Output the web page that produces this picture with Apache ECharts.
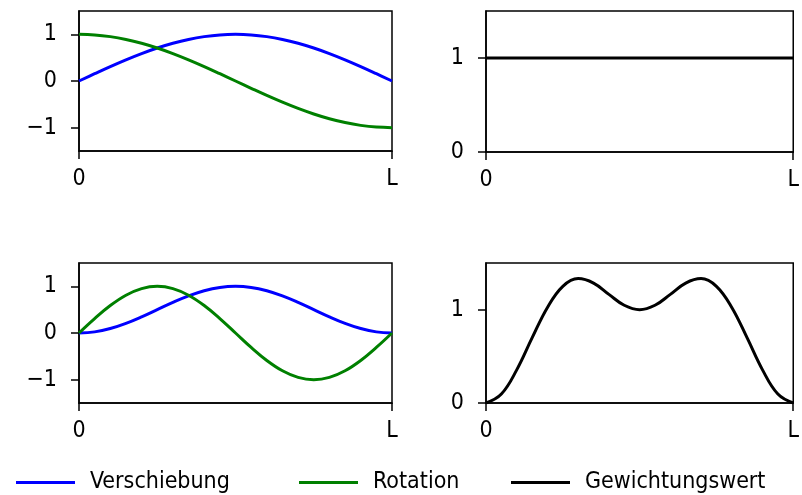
<!DOCTYPE html>
<html>
<head>
<meta charset="utf-8">
<script src="https://cdn.jsdelivr.net/npm/echarts@6/dist/echarts.min.js"></script>
<style>html,body{margin:0;padding:0;background:#fff;}#c{width:802px;height:495px;}</style>
</head>
<body>
<div id="c"></div>
<script>
// x positions as fraction of L
const xs = [0,0.05,0.1,0.15,0.2,0.25,0.3,0.35,0.4,0.45,0.5,0.55,0.6,0.65,0.7,0.75,0.8,0.85,0.9,0.95,1];
// Top-left
const dispTop = [0,0.156,0.309,0.454,0.588,0.707,0.809,0.891,0.951,0.988,1,0.988,0.951,0.891,0.809,0.707,0.588,0.454,0.309,0.156,0];
const rotTop = [1,0.988,0.951,0.891,0.809,0.707,0.588,0.454,0.309,0.156,0,-0.156,-0.309,-0.454,-0.588,-0.707,-0.809,-0.891,-0.951,-0.988,-1];
// Top-right
const weightTop = [1,1,1,1,1,1,1,1,1,1,1,1,1,1,1,1,1,1,1,1,1];
// Bottom-left
const dispBot = [0,0.024,0.095,0.206,0.345,0.5,0.655,0.794,0.905,0.976,1,0.976,0.905,0.794,0.655,0.5,0.345,0.206,0.095,0.024,0];
const rotBot = [0,0.309,0.588,0.809,0.951,1,0.951,0.809,0.588,0.309,0,-0.309,-0.588,-0.809,-0.951,-1,-0.951,-0.809,-0.588,-0.309,0];
// Bottom-right
const weightBot = [0,0.096,0.355,0.697,1.024,1.25,1.333,1.285,1.164,1.047,1,1.047,1.164,1.285,1.333,1.25,1.024,0.697,0.355,0.096,0];

const xTicks = [0,1];
const xTickLabels = ['0','L'];
const yTicksSym = [-1,0,1];
const yTicksPos = [0,1];

const names = {disp:'Verschiebung', rot:'Rotation', weight:'Gewichtungswert'};
const colors = {disp:'#0000ff', rot:'#008000', weight:'#000000'};

const FONT = 'DejaVu Sans Condensed, DejaVu Sans';
const FS = 23;

function pairs(v){ return xs.map((x,i)=>[x,v[i]]); }

const grids = [
  {left:79, top:11, width:313, height:140},
  {left:486, top:11, width:313, height:141},
  {left:79, top:263, width:313, height:140},
  {left:486, top:263, width:313, height:140}
].map(g=>Object.assign({show:true, borderColor:'#000', borderWidth:1.5, backgroundColor:'transparent', containLabel:false}, g));

function xAxis(i){
  return {type:'value', gridIndex:i, min:0, max:1,
    axisLine:{show:true, onZero:false, lineStyle:{color:'#000', width:1.5}},
    axisTick:{show:true, inside:false, length:8, lineStyle:{color:'#000', width:1.5}, customValues:xTicks},
    axisLabel:{show:true, margin:17, color:'#000', fontFamily:FONT, fontSize:FS, customValues:xTicks,
      formatter:function(v){ return xTickLabels[xTicks.indexOf(v)]; }},
    splitLine:{show:false}};
}
function yAxis(i, min, max, ticks){
  return {type:'value', gridIndex:i, min:min, max:max,
    axisLine:{show:true, onZero:false, lineStyle:{color:'#000', width:1.5}},
    axisTick:{show:true, inside:false, length:8, lineStyle:{color:'#000', width:1.5}, customValues:ticks},
    axisLabel:{show:true, margin:22, color:'#000', fontFamily:FONT, fontSize:FS, customValues:ticks,
      formatter:function(v){ return v<0 ? '\u2212'+Math.abs(v) : String(v); }},
    splitLine:{show:false}};
}

function line(key, data, i){
  return {type:'line', name:names[key], xAxisIndex:i, yAxisIndex:i, data:pairs(data),
    smooth:0.4, showSymbol:false, symbol:'none', lineStyle:{color:colors[key], width:3},
    itemStyle:{color:colors[key]}, animation:false};
}

function legend(left, name){
  return {left:left, top:466, data:[name], icon:'rect', itemWidth:59, itemHeight:3,
    textStyle:{fontFamily:FONT, fontSize:FS, color:'#000', padding:[0,0,0,10]}, selectedMode:false};
}

const option = {
  animation:false,
  backgroundColor:'#fff',
  grid:grids,
  xAxis:[xAxis(0),xAxis(1),xAxis(2),xAxis(3)],
  yAxis:[yAxis(0,-1.5,1.5,yTicksSym), yAxis(1,0,1.5,yTicksPos), yAxis(2,-1.5,1.5,yTicksSym), yAxis(3,0,1.5,yTicksPos)],
  legend:[legend(11,names.disp), legend(294,names.rot), legend(506,names.weight)],
  series:[
    line('disp',dispTop,0), line('rot',rotTop,0),
    line('weight',weightTop,1),
    line('disp',dispBot,2), line('rot',rotBot,2),
    line('weight',weightBot,3)
  ]
};
const chart = echarts.init(document.getElementById('c'), null, {renderer:'canvas'});
chart.setOption(option);
</script>
</body>
</html>
